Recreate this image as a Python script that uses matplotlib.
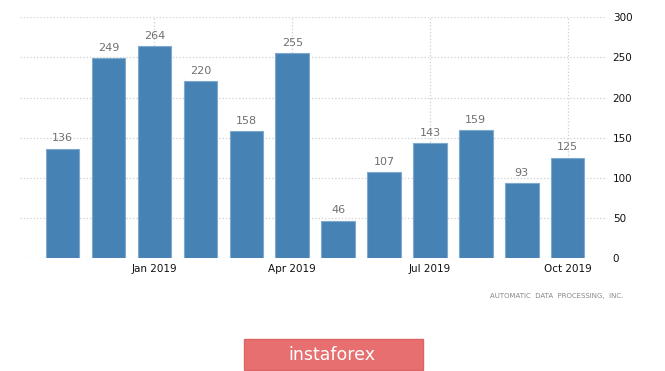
import matplotlib.pyplot as plt
import numpy as np
from matplotlib.patches import Rectangle

months = ['Nov 2018', 'Dec 2018', 'Jan 2019', 'Feb 2019', 'Mar 2019', 'Apr 2019',
          'May 2019', 'Jun 2019', 'Jul 2019', 'Aug 2019', 'Sep 2019', 'Oct 2019']
values = [136, 249, 264, 220, 158, 255, 46, 107, 143, 159, 93, 125]
shown_labels = ['Jan 2019', 'Apr 2019', 'Jul 2019', 'Oct 2019']
y_ticks = [0, 50, 100, 150, 200, 250, 300]

fig = plt.figure(figsize=(6.65, 3.71), dpi=100)
ax = fig.add_axes([0.030, 0.3046, 0.883, 0.6488])

x = np.arange(len(months))
ax.bar(x, values, width=0.73, color='#4682b4', edgecolor='#7fa9cf', linewidth=0.8, zorder=3)
for xi, v in zip(x, values):
    ax.text(xi, v + 7, str(v), ha='center', va='bottom', fontsize=8, color='#707070')

ax.set_xlim(-0.93, 11.86)
ax.set_ylim(0, 300)
tick_pos = [months.index(m) for m in shown_labels]
ax.set_xticks(tick_pos)
ax.set_xticklabels(shown_labels, fontsize=7.5, color='#111111')
ax.set_yticks(y_ticks)
ax.yaxis.tick_right()
ax.tick_params(axis='y', length=0, pad=4, labelsize=7.5, labelcolor='#111111')
ax.tick_params(axis='x', length=0, pad=4)
ax.grid(True, color='#d0d0d0', linestyle=':', linewidth=0.9, zorder=0)
for s in ax.spines.values():
    s.set_visible(False)

fig.text(623 / 665, 1 - 296 / 371, 'AUTOMATIC  DATA  PROCESSING,  INC.', ha='right', va='center',
         fontsize=5, color='#888888')

fig.patches.append(Rectangle((244 / 665, 1 - 370 / 371), 179 / 665, 31 / 371,
                             transform=fig.transFigure, facecolor='#e76f6f', edgecolor='#dc6464'))
fig.text(332 / 665, 1 - 355 / 371, 'instaforex', ha='center', va='center',
         fontsize=12.5, color='white')

fig.savefig('out.png', dpi=100)
